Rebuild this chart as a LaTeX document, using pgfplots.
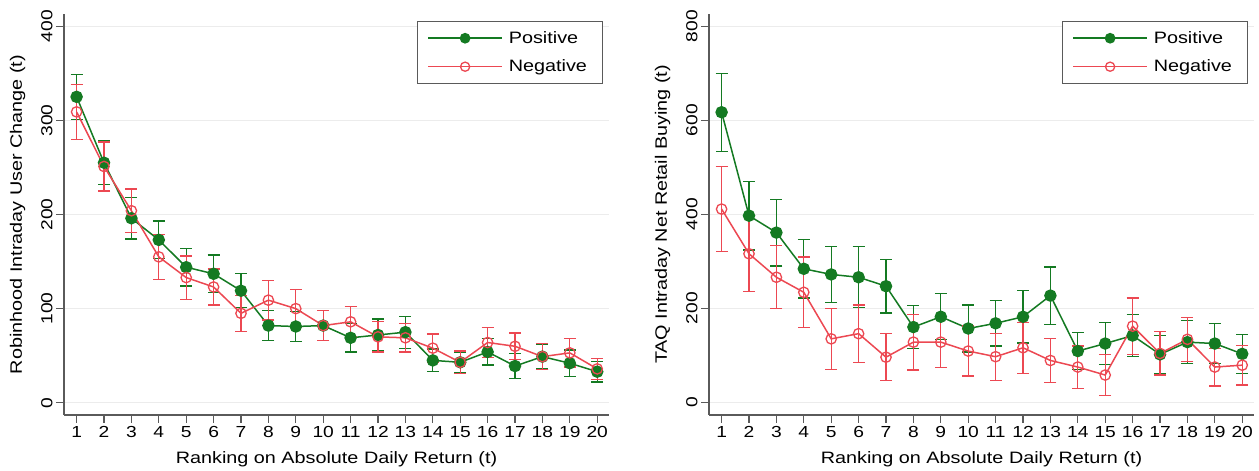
\documentclass[border=0pt]{standalone}
\usepackage{pgfplots}
\pgfplotsset{compat=1.18}
\usepackage{fontspec}
\setmainfont{Liberation Sans}[FakeStretch=1.2]
\definecolor{pgreen}{RGB}{20,122,34}
\definecolor{nred}{RGB}{236,72,82}
\definecolor{axgray}{RGB}{90,90,90}
\definecolor{gridgray}{RGB}{236,236,236}

\pgfplotsset{
  panel/.style={
    scale only axis, width=545pt, height=401pt,
    axis x line*=bottom, axis y line*=left,
    axis line style={axgray, line width=1.2pt, -},
    tick style={axgray, line width=1.1pt},
    tick align=outside, major tick length=8pt,
    xmin=0.54, xmax=20.43,
    xtick={1,...,20},
    ymajorgrids, grid style={gridgray, line width=1.4pt},
    /pgf/number format/assume math mode=true,
    ticklabel style={font=\fontsize{16}{18}\selectfont},
    yticklabel style={rotate=90, anchor=south},
    label style={font=\fontsize{16.5}{19}\selectfont},
    xlabel={Ranking on Absolute Daily Return (t)},
    xlabel style={at={(axis description cs:0.5,-0.11)}, anchor=center},
    ylabel style={at={(axis description cs:-0.085,0.5)}, anchor=center},
    legend style={at={(axis description cs:0.989,0.9825)}, anchor=north east,
      draw=axgray, line width=1pt, fill=white,
      font=\fontsize{16.5}{19}\selectfont,
      inner xsep=9.5pt, inner ysep=10pt, row sep=15pt, cells={anchor=west},
      nodes={inner xsep=6pt, inner ysep=0pt}},
    legend image code/.code={\draw[mark repeat=2, mark phase=2, #1, mark size=4.6pt]
      plot coordinates {(0pt,0pt) (37pt,0pt) (74pt,0pt)};},
  },
  gr/.style={pgreen, line width=1.5pt, mark=*, mark size=5.5pt,
    mark options={fill=pgreen, draw=pgreen},
    error bars/.cd, y dir=both, y explicit,
    error bar style={line width=1.3pt, pgreen},
    error mark options={rotate=90, mark size=6pt, line width=1.3pt, pgreen}},
  rd/.style={nred, line width=1.5pt, mark=o, mark size=5.2pt,
    mark options={draw=nred, line width=1.3pt},
    error bars/.cd, y dir=both, y explicit,
    error bar style={line width=1.3pt, nred},
    error mark options={rotate=90, mark size=6pt, line width=1.3pt, nred}},
}

\begin{document}
\begin{tikzpicture}
\path[use as bounding box] (0,0) rectangle (1259pt,471pt);

\begin{axis}[panel, at={(64pt,56pt)}, anchor=south west,
  ymin=-13, ymax=413, ytick={0,100,200,300,400},
  ylabel={Robinhood Intraday User Change (t)}]
\addplot[gr] coordinates {
 (1,325) +- (0,24) (2,255) +- (0,23) (3,196) +- (0,22) (4,173) +- (0,20)
 (5,144) +- (0,20) (6,137) +- (0,20) (7,119) +- (0,18) (8,82) +- (0,16)
 (9,81) +- (0,16) (10,82) +- (0,16) (11,69) +- (0,15) (12,72) +- (0,17)
 (13,75) +- (0,17) (14,45) +- (0,12) (15,43) +- (0,11) (16,54) +- (0,14)
 (17,39) +- (0,13) (18,49) +- (0,13) (19,42) +- (0,14) (20,33) +- (0,11)};
\addlegendentry{Positive}
\addplot[rd] coordinates {
 (1,309) +- (0,29) (2,251) +- (0,26) (3,204) +- (0,23) (4,155) +- (0,24)
 (5,133) +- (0,23) (6,123) +- (0,19) (7,95) +- (0,19) (8,109) +- (0,21)
 (9,100) +- (0,20) (10,82) +- (0,16) (11,86) +- (0,16) (12,70) +- (0,16)
 (13,69) +- (0,15) (14,58) +- (0,15) (15,43) +- (0,12) (16,64) +- (0,16)
 (17,60) +- (0,14) (18,49) +- (0,14) (19,53) +- (0,15) (20,36) +- (0,11)};
\addlegendentry{Negative}
\end{axis}

\begin{axis}[panel, at={(709pt,56pt)}, anchor=south west,
  ymin=-27, ymax=826, ytick={0,200,400,600,800},
  ylabel={TAQ Intraday Net Retail Buying (t)}]
\addplot[gr] coordinates {
 (1,617) +- (0,83) (2,397) +- (0,73) (3,361) +- (0,71) (4,284) +- (0,62)
 (5,272) +- (0,60) (6,266) +- (0,65) (7,247) +- (0,57) (8,160) +- (0,46)
 (9,182) +- (0,49) (10,157) +- (0,50) (11,168) +- (0,48) (12,182) +- (0,56)
 (13,227) +- (0,61) (14,109) +- (0,39) (15,125) +- (0,45) (16,142) +- (0,45)
 (17,102) +- (0,40) (18,128) +- (0,46) (19,125) +- (0,42) (20,103) +- (0,41)};
\addlegendentry{Positive}
\addplot[rd] coordinates {
 (1,411) +- (0,90) (2,316) +- (0,80) (3,266) +- (0,67) (4,234) +- (0,75)
 (5,135) +- (0,65) (6,146) +- (0,61) (7,96) +- (0,50) (8,128) +- (0,59)
 (9,128) +- (0,54) (10,109) +- (0,53) (11,97) +- (0,50) (12,116) +- (0,54)
 (13,89) +- (0,47) (14,75) +- (0,45) (15,58) +- (0,43) (16,162) +- (0,60)
 (17,104) +- (0,46) (18,134) +- (0,47) (19,75) +- (0,40) (20,79) +- (0,42)};
\addlegendentry{Negative}
\end{axis}
\end{tikzpicture}
\end{document}
